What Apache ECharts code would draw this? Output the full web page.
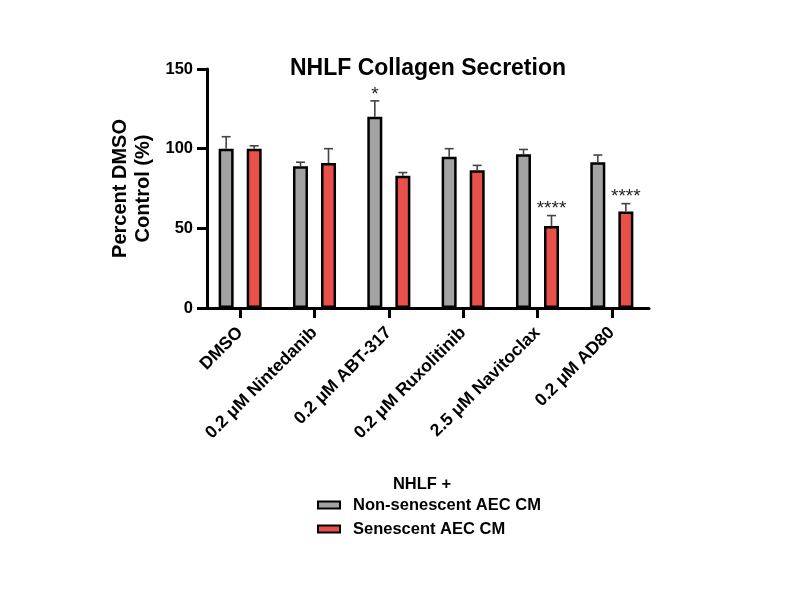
<!DOCTYPE html>
<html>
<head>
<meta charset="utf-8">
<script src="https://cdn.jsdelivr.net/npm/echarts@6/dist/echarts.min.js"></script>
<style>html,body{margin:0;padding:0;background:#fff;}#c{width:800px;height:600px;}</style>
</head>
<body>
<div id="c"></div>
<script>
const categories = ['DMSO', '0.2 μM Nintedanib', '0.2 μM ABT-317', '0.2 μM Ruxolitinib', '2.5 μM Navitoclax', '0.2 μM AD80'];
const nonSenescent = [100, 89, 120, 95, 96.5, 91.5];
const nonSenescentErr = [7.5, 2.5, 10, 5, 3, 4.5];
const nonSenescentSig = ['', '', '*', '', '', ''];
const senescent = [100, 91, 83, 86.5, 51.5, 60.5];
const senescentErr = [1.8, 9, 2, 3, 6.5, 5];
const senescentSig = ['', '', '', '', '****', '****'];
const yTicks = [0, 50, 100, 150];

const FONT = '"Liberation Sans", Arial, Helvetica, sans-serif';
const BAR_W = 15;
const BAR_OFFSET = 14;

function errSeries(name, vals, errs, sig, sign) {
  return {
    type: 'custom',
    name: name + ' err',
    z: 5,
    silent: true,
    data: vals.map((v, i) => [i, v, errs[i]]),
    renderItem: function (params, api) {
      const i = api.value(0);
      const v = api.value(1);
      const e = api.value(2);
      const s = sig[i];
      const p0 = api.coord([i, v]);
      const p1 = api.coord([i, v + e]);
      const x = p0[0] + sign * BAR_OFFSET;
      const children = [
        { type: 'line', shape: { x1: x, y1: p0[1], x2: x, y2: p1[1] }, style: { stroke: '#444', lineWidth: 1.6 } },
        { type: 'line', shape: { x1: x - 4.5, y1: p1[1], x2: x + 4.5, y2: p1[1] }, style: { stroke: '#444', lineWidth: 1.6 } }
      ];
      if (s) {
        children.push({ type: 'text', x: x, y: p1[1] + 3, style: { text: s, fill: '#222', font: '19px ' + FONT, textAlign: 'center', textVerticalAlign: 'bottom' } });
      }
      return { type: 'group', children: children };
    }
  };
}

const chart = echarts.init(document.getElementById('c'), null, { renderer: 'canvas' });
chart.setOption({
  animation: false,
  backgroundColor: '#fff',
  textStyle: { fontFamily: FONT },
  title: [
    { text: 'NHLF Collagen Secretion', left: 423, top: 52, textAlign: 'center',
      textStyle: { fontFamily: FONT, fontWeight: 'bold', fontSize: 23, color: '#000' } },
    { text: 'NHLF +', left: 417, top: 471, textAlign: 'center',
      textStyle: { fontFamily: FONT, fontWeight: 'bold', fontSize: 16.5, color: '#000' } }
  ],
  legend: {
    orient: 'vertical',
    left: 312,
    top: 490,
    itemWidth: 22,
    itemHeight: 7,
    itemGap: 4,
    icon: 'rect',
    data: ['Non-senescent AEC CM', 'Senescent AEC CM'],
    textStyle: { fontFamily: FONT, fontWeight: 'bold', fontSize: 16.5, color: '#000', lineHeight: 20, padding: [0, 0, 0, 8] }
  },
  grid: { left: 203, right: 151, top: 69, bottom: 292, containLabel: false },
  xAxis: {
    type: 'category',
    data: categories,
    axisLine: { show: true, lineStyle: { color: '#000', width: 3 } },
    axisTick: { show: true, alignWithLabel: true, length: 10, lineStyle: { color: '#000', width: 3 } },
    axisLabel: { rotate: 45, interval: 0, margin: 22, fontFamily: FONT, fontWeight: 'bold', fontSize: 17.5, color: '#000' }
  },
  yAxis: {
    type: 'value',
    min: 0, max: 150, interval: 50,
    offset: -4,
    name: 'Percent DMSO\nControl (%)',
    nameLocation: 'middle',
    nameRotate: 90,
    nameGap: 46,
    nameTextStyle: { fontFamily: FONT, fontWeight: 'bold', fontSize: 20, color: '#000', lineHeight: 23 },
    splitLine: { show: false },
    axisLine: { show: true, lineStyle: { color: '#000', width: 3 } },
    axisTick: { show: true, length: 10, lineStyle: { color: '#000', width: 3 } },
    axisLabel: { margin: 14, fontFamily: FONT, fontWeight: 'bold', fontSize: 16.5, color: '#000',
      formatter: function (v) { return yTicks.indexOf(v) >= 0 ? String(v) : ''; } }
  },
  series: [
    { type: 'bar', name: 'Non-senescent AEC CM', data: nonSenescent, barWidth: BAR_W, barGap: '87%',
      itemStyle: { color: '#a3a3a3', borderColor: '#000', borderWidth: 2.5 } },
    { type: 'bar', name: 'Senescent AEC CM', data: senescent, barWidth: BAR_W,
      itemStyle: { color: '#e8504a', borderColor: '#000', borderWidth: 2.5 } },
    errSeries('Non-senescent AEC CM', nonSenescent, nonSenescentErr, nonSenescentSig, -1),
    errSeries('Senescent AEC CM', senescent, senescentErr, senescentSig, 1)
  ]
});
</script>
</body>
</html>
